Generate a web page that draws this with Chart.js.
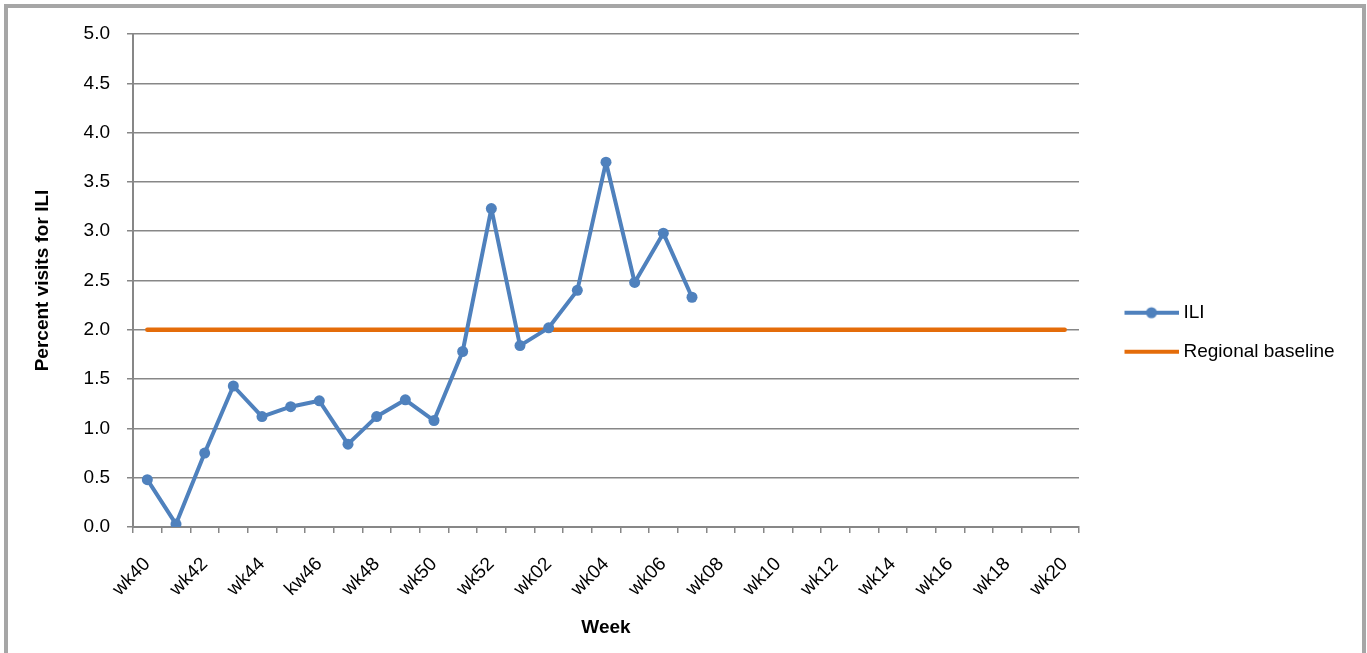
<!DOCTYPE html>
<html>
<head>
<meta charset="utf-8">
<title>Percent visits for ILI</title>
<script src="https://cdn.jsdelivr.net/npm/chart.js@4.4.1/dist/chart.umd.min.js"></script>
<style>
	html, body { margin: 0; padding: 0; background: #fff; overflow: hidden; }
	#frame {
		position: absolute;
		left: 4px;
		top: 4px;
		width: 1354px;
		height: 700px;
		border: 4px solid #a6a6a6;
	}
	#chart { position: absolute; left: 0; top: 0; }
</style>
</head>
<body>
<div id="frame"></div>
<canvas id="chart" width="1367" height="653"></canvas>

<script>
// Weeks of the season (the source labels week 46 as "kw46")
const weeks = [
	'wk40', 'wk41', 'wk42', 'wk43', 'wk44', 'wk45', 'kw46', 'wk47', 'wk48', 'wk49',
	'wk50', 'wk51', 'wk52', 'wk01', 'wk02', 'wk03', 'wk04', 'wk05', 'wk06', 'wk07',
	'wk08', 'wk09', 'wk10', 'wk11', 'wk12', 'wk13', 'wk14', 'wk15', 'wk16', 'wk17',
	'wk18', 'wk19', 'wk20',
]

// Percent of visits for ILI, wk40 .. wk07
const iliValues = [
	0.48, 0.03, 0.75, 1.43, 1.12, 1.22, 1.28, 0.84, 1.12, 1.29,
	1.08, 1.78, 3.23, 1.84, 2.02, 2.40, 3.70, 2.48, 2.98, 2.33,
]

// Regional baseline, flat over the whole season
const baselineValues = [
	2.0, 2.0, 2.0, 2.0, 2.0, 2.0, 2.0, 2.0, 2.0, 2.0,
	2.0, 2.0, 2.0, 2.0, 2.0, 2.0, 2.0, 2.0, 2.0, 2.0,
	2.0, 2.0, 2.0, 2.0, 2.0, 2.0, 2.0, 2.0, 2.0, 2.0,
	2.0, 2.0, 2.0,
]

const yTicks = { min: 0, max: 5, step: 0.5 }

const BLUE = '#4F81BD'
const ORANGE = '#E46C0A'
const GRID = '#878787'

Chart.defaults.font.family = '"Liberation Sans", Arial, sans-serif'
Chart.defaults.color = '#000'

// legend samples: a line, with a marker for the ILI series
function legendSwatch(color, width, dot) {
	const c = document.createElement('canvas')
	c.width = 84
	c.height = 14
	const g = c.getContext('2d')
	g.strokeStyle = color
	g.lineWidth = width
	g.beginPath()
	g.moveTo(30, 7)
	g.lineTo(84, 7)
	g.stroke()
	if (dot) {
		g.fillStyle = color
		g.beginPath()
		g.arc(57, 7, 5.5, 0, Math.PI * 2)
		g.fill()
	}
	return c
}

const swatches = [legendSwatch(BLUE, 4, true), legendSwatch(ORANGE, 4, false)]

// keep the plot area where Excel put it: legend takes the strip right of x=1079
const legendWidth = {
	id: 'legendWidth',
	afterInit(chart) {
		const legend = chart.legend
		const fit = legend.fit
		legend.fit = function () {
			fit.call(this)
			this.width = 1367 - 1079
		}
	},
}

new Chart(document.getElementById('chart'), {
	type: 'line',

	data: {
		labels: weeks,
		datasets: [
			{
				label: 'ILI',
				data: iliValues,
				borderColor: BLUE,
				backgroundColor: BLUE,
				borderWidth: 4,
				borderJoinStyle: 'round',
				pointRadius: 5.5,
				pointBorderWidth: 0,
				pointBackgroundColor: BLUE,
				tension: 0,
			},
			{
				label: 'Regional baseline',
				data: baselineValues,
				borderColor: ORANGE,
				backgroundColor: ORANGE,
				borderWidth: 4.5,
				borderCapStyle: 'round',
				pointRadius: 0,
				tension: 0,
			},
		],
	},

	options: {
		responsive: false,
		animation: false,
		devicePixelRatio: 1,
		events: [],

		layout: {
			padding: { top: 34, left: 0, right: 0, bottom: 0 },
		},

		scales: {
			x: {
				offset: true,
				afterFit: scale => { scale.height = 126 },
				grid: {
					offset: true,
					drawOnChartArea: false,
					drawTicks: true,
					tickLength: 6,
					color: GRID,
					lineWidth: 1.5,
				},
				border: { color: GRID, width: 2 },
				ticks: {
					autoSkip: false,
					minRotation: 45,
					maxRotation: 45,
					padding: 20,
					font: { size: 19 },
					callback: function (value, index) {
						return index % 2 === 0 ? this.getLabelForValue(value) : ''
					},
				},
				title: {
					display: true,
					text: 'Week',
					font: { size: 19, weight: 'bold' },
					padding: { top: 0, bottom: 14 },
				},
			},

			y: {
				min: yTicks.min,
				max: yTicks.max,
				afterFit: scale => { scale.width = 133 },
				grid: {
					color: GRID,
					lineWidth: 1.5,
					tickLength: 6,
				},
				border: { color: GRID, width: 2 },
				ticks: {
					stepSize: yTicks.step,
					padding: 17,
					font: { size: 19 },
					callback: value => value.toFixed(1),
				},
				title: {
					display: true,
					text: 'Percent visits for ILI',
					font: { size: 19, weight: 'bold' },
					padding: { top: 31, bottom: 0 },
				},
			},
		},

		plugins: {
			tooltip: { enabled: false },

			legend: {
				position: 'right',
				fullSize: false,
				title: {
					display: true,
					text: '',
					font: { size: 10, lineHeight: 1 },
					padding: { top: 93.4, bottom: 0 },
				},
				labels: {
					usePointStyle: true,
					pointStyleWidth: 75,
					padding: 20,
					font: { size: 19 },
					color: '#000',
					generateLabels: chart => chart.data.datasets.map((ds, i) => ({
						text: ds.label,
						pointStyle: swatches[i],
						datasetIndex: i,
						hidden: false,
						lineWidth: 0,
						fillStyle: 'transparent',
						strokeStyle: 'transparent',
						fontColor: '#000',
					})),
				},
			},
		},
	},

	plugins: [legendWidth],
})
</script>
</body>
</html>
